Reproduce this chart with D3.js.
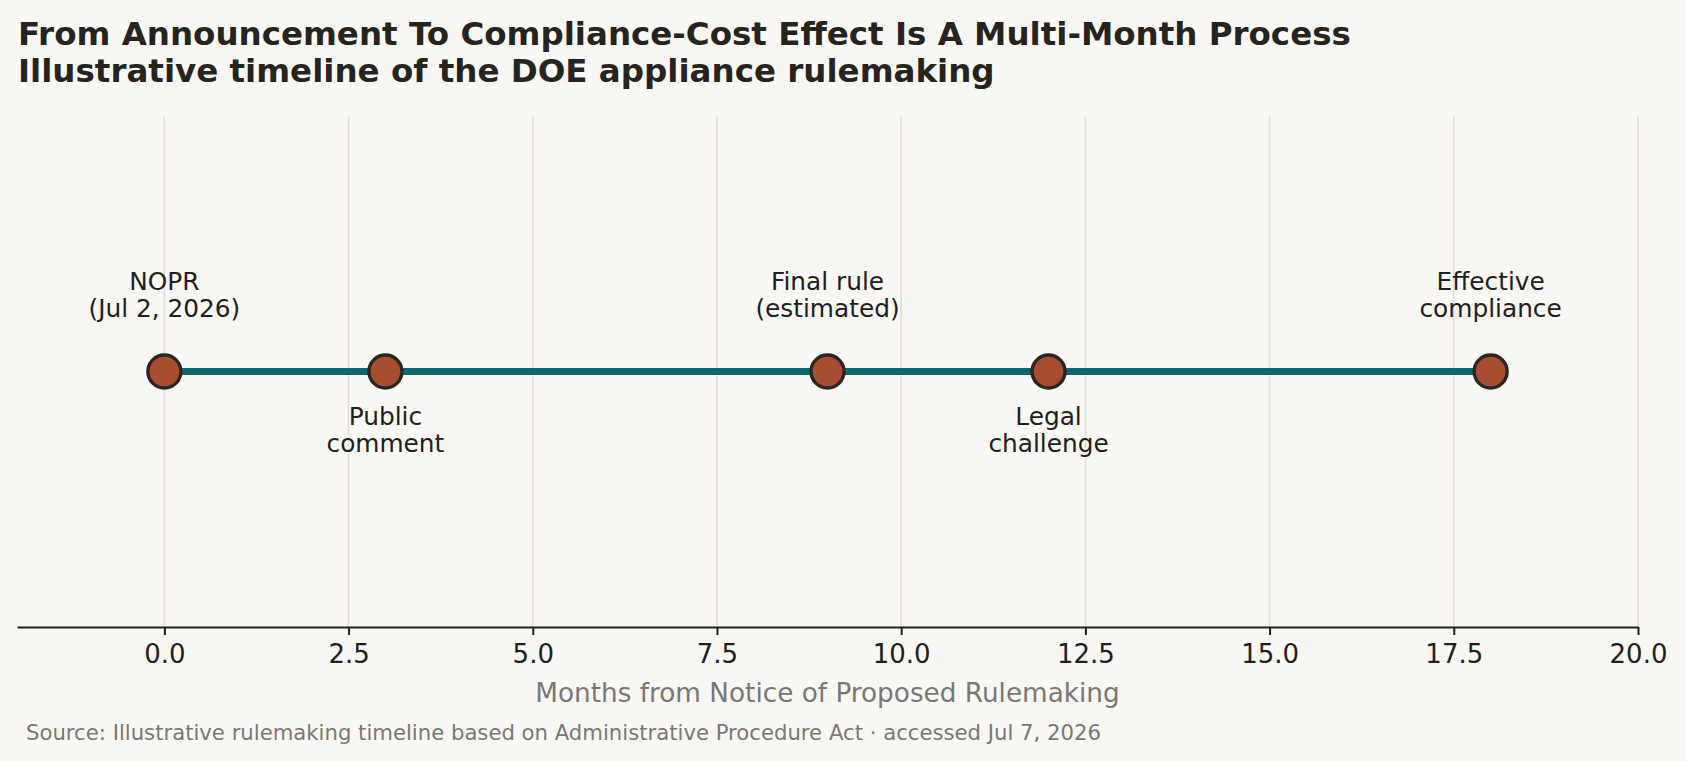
<!DOCTYPE html>
<html>
<head>
<meta charset="utf-8">
<script src="https://cdn.jsdelivr.net/npm/d3@7"></script>
<style>
  html, body { margin: 0; padding: 0; background: #f9f8f4; }
  svg { display: block; font-family: "DejaVu Sans", sans-serif; }
  .axis path, .axis line { stroke: #22201c; }
  .axis text { fill: #22201c; font-size: 26px; font-family: "DejaVu Sans", sans-serif; }
</style>
</head>
<body>
<svg id="chart" width="1686" height="761"></svg>
<script>
// milestones of the rulemaking, in months from the NOPR
const months = [0, 3, 9, 12, 18];
const milestoneLabels = [
  ['NOPR', '(Jul 2, 2026)'],
  ['Public', 'comment'],
  ['Final rule', '(estimated)'],
  ['Legal', 'challenge'],
  ['Effective', 'compliance']
];
const xTicks = [0, 2.5, 5, 7.5, 10, 12.5, 15, 17.5, 20];

const titleLines = [
  'From Announcement To Compliance-Cost Effect Is A Multi-Month Process',
  'Illustrative timeline of the DOE appliance rulemaking'
];
const xLabel = 'Months from Notice of Proposed Rulemaking';
const source = 'Source: Illustrative rulemaking timeline based on Administrative Procedure Act · accessed Jul 7, 2026';

const svg = d3.select('#chart');
const width = +svg.attr('width');
const height = +svg.attr('height');
const plot = { left: 17, right: 1638, top: 116, bottom: 627 };

svg.append('rect').attr('width', width).attr('height', height).attr('fill', '#f9f8f4');

const x = d3.scaleLinear().domain([-2, 20]).range([plot.left, plot.right]);
const y = d3.scaleLinear().domain([-1, 1]).range([plot.bottom, plot.top]);

// vertical grid
svg.append('g')
  .selectAll('line')
  .data(xTicks)
  .join('line')
  .attr('x1', d => x(d)).attr('x2', d => x(d))
  .attr('y1', plot.top).attr('y2', plot.bottom)
  .attr('stroke', '#e2dfda')
  .attr('stroke-width', 1.6);

// x axis
const xAxis = d3.axisBottom(x)
  .tickValues(xTicks)
  .tickFormat(d3.format('.1f'))
  .tickSizeInner(8)
  .tickSizeOuter(0)
  .tickPadding(10);

svg.append('g')
  .attr('class', 'axis')
  .attr('transform', `translate(0,${plot.bottom})`)
  .call(xAxis)
  .call(g => g.select('.domain').attr('stroke-width', 2))
  .call(g => g.selectAll('.tick line').attr('stroke-width', 2));

// timeline line
const line = d3.line().x(d => x(d)).y(() => y(0));
svg.append('path')
  .datum(months)
  .attr('fill', 'none')
  .attr('stroke', '#0b6870')
  .attr('stroke-width', 7)
  .attr('d', line);

// milestone dots
svg.append('g')
  .selectAll('circle')
  .data(months)
  .join('circle')
  .attr('cx', d => x(d))
  .attr('cy', y(0))
  .attr('r', 16.5)
  .attr('fill', '#a84d31')
  .attr('stroke', '#2a2721')
  .attr('stroke-width', 3.4);

// labels, alternating above / below
const lineGap = 26.7;
svg.append('g')
  .selectAll('text')
  .data(months)
  .join('text')
  .attr('text-anchor', 'middle')
  .attr('font-size', 24.8)
  .attr('fill', '#22201c')
  .each(function(d, i) {
    const lines = milestoneLabels[i];
    const above = i % 2 === 0;
    const firstBase = above ? y(0) - 55 - lineGap * (lines.length - 1) : y(0) + 53.5;
    d3.select(this).selectAll('tspan')
      .data(lines)
      .join('tspan')
      .attr('x', x(d))
      .attr('y', (t, j) => firstBase + j * lineGap)
      .text(t => t);
  });

// titles
svg.append('g')
  .selectAll('text')
  .data(titleLines)
  .join('text')
  .attr('x', 18)
  .attr('y', (d, i) => 44.5 + i * 37.3)
  .attr('font-size', 32.5)
  .attr('font-weight', 'bold')
  .attr('fill', '#26241d')
  .text(d => d);

// axis label
svg.append('text')
  .attr('x', (plot.left + plot.right) / 2)
  .attr('y', 702)
  .attr('text-anchor', 'middle')
  .attr('font-size', 26.3)
  .attr('fill', '#7a7874')
  .text(xLabel);

// source note
svg.append('text')
  .attr('x', 26)
  .attr('y', 740)
  .attr('font-size', 21.2)
  .attr('fill', '#7a7874')
  .text(source);
</script>
</body>
</html>
